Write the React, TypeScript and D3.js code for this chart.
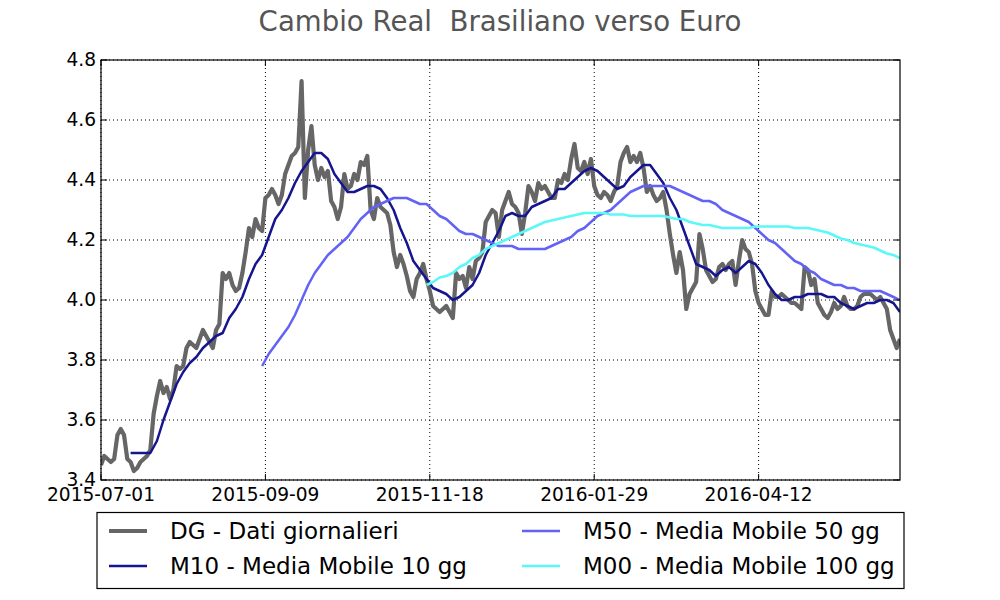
import React, { useEffect, useRef } from "react";
import * as d3 from "d3";

// x tick labels (one every 50 trading days)
const tickDates = ["2015-07-01", "2015-09-09", "2015-11-18", "2016-01-29", "2016-04-12"];
const tickStep = 50;
const yTicks = [3.4, 3.6, 3.8, 4.0, 4.2, 4.4, 4.6, 4.8];

// DG - daily values, one per trading day
const dgValues = [
  3.45, 3.48, 3.47, 3.46, 3.47, 3.55, 3.57, 3.55, 3.47, 3.46,
  3.43, 3.44, 3.46, 3.47, 3.48, 3.5, 3.62, 3.68, 3.73, 3.69,
  3.71, 3.67, 3.7, 3.78, 3.77, 3.78, 3.84, 3.86, 3.85, 3.84,
  3.87, 3.9, 3.88, 3.86, 3.84, 3.9, 3.92, 4.09, 4.07, 4.09,
  4.05, 4.03, 4.04, 4.09, 4.16, 4.24, 4.21, 4.27, 4.24, 4.23,
  4.34, 4.35, 4.37, 4.35, 4.32, 4.35, 4.42, 4.45, 4.48, 4.49,
  4.51, 4.73, 4.34, 4.5, 4.58, 4.45, 4.4, 4.44, 4.41, 4.43,
  4.33, 4.31, 4.27, 4.31, 4.42, 4.37, 4.38, 4.42, 4.4, 4.46,
  4.45, 4.48, 4.3, 4.27, 4.34, 4.31, 4.3, 4.29, 4.25, 4.16,
  4.11, 4.15, 4.12, 4.08, 4.03, 4.01, 4.07, 4.09, 4.12, 4.07,
  4.03, 3.98, 3.97, 3.96, 3.97, 3.98, 3.96, 3.94, 4.09, 4.07,
  4.08, 4.04, 4.11, 4.07, 4.13, 4.14, 4.16, 4.26, 4.28, 4.3,
  4.29, 4.21, 4.3, 4.33, 4.36, 4.32, 4.31, 4.29, 4.22, 4.29,
  4.38, 4.36, 4.33, 4.39, 4.37, 4.38, 4.36, 4.34, 4.34, 4.4,
  4.39, 4.42, 4.4, 4.47, 4.52, 4.44, 4.43, 4.46, 4.42, 4.47,
  4.38, 4.35, 4.34, 4.36, 4.35, 4.33, 4.36, 4.38, 4.46, 4.49,
  4.51, 4.46, 4.48, 4.46, 4.49, 4.44, 4.36, 4.38, 4.35, 4.33,
  4.34, 4.36, 4.3, 4.22, 4.15, 4.09, 4.16, 4.1, 3.97, 4.02,
  4.04, 4.06, 4.22, 4.17, 4.1, 4.08, 4.06, 4.07, 4.11, 4.12,
  4.1, 4.12, 4.13, 4.05, 4.13, 4.2, 4.17, 4.16, 4.12, 4.03,
  3.99, 3.97, 3.95, 3.95, 4.03, 4.01, 4.01, 4.02, 4.01, 4.0,
  3.99, 3.99, 3.98, 3.97, 4.11, 4.1, 4.05, 4.07, 3.99, 3.97,
  3.95, 3.94, 3.96, 3.99, 3.97, 3.98, 4.01, 3.98, 3.97, 3.97,
  3.98, 4.01, 4.02, 4.02, 4.02, 4.01, 4.0, 4.01, 3.99, 3.97,
  3.9, 3.87, 3.84, 3.87,
];

// moving averages, read every 2nd trading day from their first available day
const m10Start = 9;
const m10Values = [
  3.49, 3.49, 3.49, 3.49, 3.53, 3.6, 3.66, 3.72, 3.76, 3.79,
  3.81, 3.84, 3.86, 3.88, 3.89, 3.94, 3.97, 4.01, 4.07, 4.12,
  4.15, 4.21, 4.27, 4.3, 4.34, 4.39, 4.43, 4.46, 4.49, 4.49,
  4.47, 4.42, 4.39, 4.36, 4.36, 4.37, 4.38, 4.38, 4.37, 4.34,
  4.3, 4.24, 4.19, 4.13, 4.1, 4.07, 4.04, 4.03, 4.02, 4.0,
  4.01, 4.03, 4.05, 4.09, 4.15, 4.19, 4.23, 4.28, 4.29, 4.28,
  4.28, 4.31, 4.32, 4.33, 4.34, 4.37, 4.37, 4.39, 4.41, 4.43,
  4.44, 4.43, 4.41, 4.39, 4.37, 4.38, 4.41, 4.43, 4.45, 4.45,
  4.42, 4.39, 4.34, 4.3, 4.24, 4.18, 4.12, 4.11, 4.1, 4.08,
  4.1, 4.11, 4.09, 4.11, 4.13, 4.12, 4.09, 4.05, 4.02, 4.0,
  4.0, 4.01, 4.01, 4.02, 4.02, 4.02, 4.01, 4.01, 3.99, 3.98,
  3.97, 3.98, 3.99, 3.99, 4.0, 4.0, 3.99, 3.96,
];
const m50Start = 49;
const m50Values = [
  3.78, 3.82, 3.85, 3.88, 3.91, 3.95, 4.0, 4.05, 4.09, 4.12,
  4.15, 4.17, 4.19, 4.21, 4.24, 4.27, 4.29, 4.31, 4.32, 4.33,
  4.34, 4.34, 4.34, 4.33, 4.32, 4.32, 4.3, 4.28, 4.27, 4.25,
  4.23, 4.22, 4.22, 4.21, 4.2, 4.19, 4.18, 4.18, 4.18, 4.17,
  4.17, 4.17, 4.17, 4.17, 4.18, 4.19, 4.2, 4.21, 4.23, 4.24,
  4.26, 4.28, 4.29, 4.3, 4.32, 4.34, 4.36, 4.37, 4.38, 4.38,
  4.38, 4.38, 4.38, 4.37, 4.36, 4.35, 4.34, 4.33, 4.33, 4.32,
  4.3, 4.29, 4.28, 4.27, 4.26, 4.24, 4.22, 4.2, 4.19, 4.17,
  4.15, 4.13, 4.12, 4.1, 4.09, 4.07, 4.06, 4.05, 4.05, 4.04,
  4.04, 4.03, 4.03, 4.03, 4.03, 4.02, 4.01, 4.0,
];
const m100Start = 99;
const m100Values = [
  4.05, 4.06, 4.075, 4.08, 4.09, 4.11, 4.12, 4.14, 4.15, 4.17,
  4.18, 4.19, 4.2, 4.21, 4.22, 4.23, 4.24, 4.25, 4.26, 4.265,
  4.27, 4.275, 4.28, 4.285, 4.29, 4.29, 4.29, 4.29, 4.285, 4.285,
  4.285, 4.28, 4.28, 4.28, 4.28, 4.28, 4.28, 4.275, 4.27, 4.27,
  4.26, 4.255, 4.25, 4.25, 4.245, 4.24, 4.24, 4.24, 4.24, 4.24,
  4.245, 4.245, 4.245, 4.245, 4.245, 4.245, 4.24, 4.24, 4.24, 4.235,
  4.23, 4.225, 4.215, 4.205, 4.2, 4.19, 4.185, 4.18, 4.175, 4.165,
  4.155, 4.15, 4.14,
];

const seriesNames = [
  "DG - Dati giornalieri",
  "M10 - Media Mobile 10 gg",
  "M50 - Media Mobile 50 gg",
  "M00 - Media Mobile 100 gg",
];

const App: React.FC = () => {
  const svgRef = useRef<SVGSVGElement | null>(null);

  useEffect(() => {
    const svg = d3.select(svgRef.current);
    svg.selectAll("*").remove();

    const left = 101, right = 900, top = 60, bottom = 480;
    const font = "'DejaVu Sans', sans-serif";

    const x = d3.scaleLinear().domain([0, dgValues.length - 1]).range([left, right]);
    const y = d3.scaleLinear().domain([3.4, 4.8]).range([bottom, top]);

    // title (keeps the double space)
    svg
      .append("text")
      .attr("x", 500)
      .attr("y", 31)
      .attr("text-anchor", "middle")
      .attr("font-family", font)
      .attr("font-size", 27.6)
      .attr("fill", "#555555")
      .style("white-space", "pre")
      .text("Cambio Real  Brasiliano verso Euro");

    const plot = svg.append("g");

    // dotted grid
    const xTickIdx = tickDates.map((_, i) => i * tickStep);
    plot
      .selectAll("line.gx")
      .data(xTickIdx)
      .enter()
      .append("line")
      .attr("x1", (d) => x(d))
      .attr("x2", (d) => x(d))
      .attr("y1", top)
      .attr("y2", bottom)
      .attr("stroke", "#000")
      .attr("stroke-width", 1)
      .attr("stroke-dasharray", "1,3");
    plot
      .selectAll("line.gy")
      .data(yTicks)
      .enter()
      .append("line")
      .attr("x1", left)
      .attr("x2", right)
      .attr("y1", (d) => y(d))
      .attr("y2", (d) => y(d))
      .attr("stroke", "#000")
      .attr("stroke-width", 1)
      .attr("stroke-dasharray", "1,3");

    // clip lines to plot area
    svg
      .append("defs")
      .append("clipPath")
      .attr("id", "plotclip")
      .append("rect")
      .attr("x", left)
      .attr("y", top)
      .attr("width", right - left)
      .attr("height", bottom - top);

    const line = d3
      .line<[number, number]>()
      .x((d) => x(d[0]))
      .y((d) => y(d[1]));

    const series = [
      { pts: dgValues.map((v, i) => [i, v] as [number, number]), color: "#666666", width: 4.2 },
      { pts: m10Values.map((v, i) => [m10Start + i * 2, v] as [number, number]), color: "#15158f", width: 2.5 },
      { pts: m50Values.map((v, i) => [m50Start + i * 2, v] as [number, number]), color: "#6262f6", width: 2.5 },
      { pts: m100Values.map((v, i) => [m100Start + i * 2, v] as [number, number]), color: "#5cf8f8", width: 2.5 },
    ];

    const lines = plot.append("g").attr("clip-path", "url(#plotclip)");
    series.forEach((s) => {
      lines
        .append("path")
        .attr("d", line(s.pts)!)
        .attr("fill", "none")
        .attr("stroke", s.color)
        .attr("stroke-width", s.width)
        .attr("stroke-linejoin", "round");
    });

    // frame
    plot
      .append("rect")
      .attr("x", left)
      .attr("y", top)
      .attr("width", right - left)
      .attr("height", bottom - top)
      .attr("fill", "none")
      .attr("stroke", "#000")
      .attr("stroke-width", 1.2);

    // inward ticks on all four sides
    const tl = 6;
    xTickIdx.forEach((d) => {
      plot.append("line").attr("x1", x(d)).attr("x2", x(d)).attr("y1", bottom).attr("y2", bottom - tl).attr("stroke", "#000");
      plot.append("line").attr("x1", x(d)).attr("x2", x(d)).attr("y1", top).attr("y2", top + tl).attr("stroke", "#000");
    });
    yTicks.forEach((d) => {
      plot.append("line").attr("x1", left).attr("x2", left + tl).attr("y1", y(d)).attr("y2", y(d)).attr("stroke", "#000");
      plot.append("line").attr("x1", right).attr("x2", right - tl).attr("y1", y(d)).attr("y2", y(d)).attr("stroke", "#000");
    });

    // tick labels
    plot
      .selectAll("text.xl")
      .data(tickDates)
      .enter()
      .append("text")
      .attr("x", (_, i) => x(i * tickStep))
      .attr("y", 500.5)
      .attr("text-anchor", "middle")
      .attr("font-family", font)
      .attr("font-size", 18.6)
      .attr("fill", "#000")
      .text((d) => d);
    plot
      .selectAll("text.yl")
      .data(yTicks)
      .enter()
      .append("text")
      .attr("x", 96)
      .attr("y", (d) => y(d) + 5.8)
      .attr("text-anchor", "end")
      .attr("font-family", font)
      .attr("font-size", 18.6)
      .attr("fill", "#000")
      .text((d) => d.toFixed(1));

    // legend
    const lg = svg.append("g");
    lg.append("rect")
      .attr("x", 97)
      .attr("y", 512.5)
      .attr("width", 807)
      .attr("height", 76)
      .attr("fill", "#fff")
      .attr("stroke", "#000")
      .attr("stroke-width", 1.2);
    const colX = [109, 522];
    const rowY = [531, 566];
    seriesNames.forEach((name, i) => {
      const cx = colX[Math.floor(i / 2)];
      const cy = rowY[i % 2];
      lg.append("line")
        .attr("x1", cx)
        .attr("x2", cx + 38)
        .attr("y1", cy)
        .attr("y2", cy)
        .attr("stroke", series[i].color)
        .attr("stroke-width", series[i].width);
      lg.append("text")
        .attr("x", cx + 61)
        .attr("y", cy + 8)
        .attr("font-family", font)
        .attr("font-size", 23)
        .attr("fill", "#000")
        .text(name);
    });
  }, []);

  return (
    <svg
      ref={svgRef}
      width={1000}
      height={600}
      style={{ position: "absolute", left: 0, top: 0, background: "#fff" }}
    ></svg>
  );
};

export default App;
